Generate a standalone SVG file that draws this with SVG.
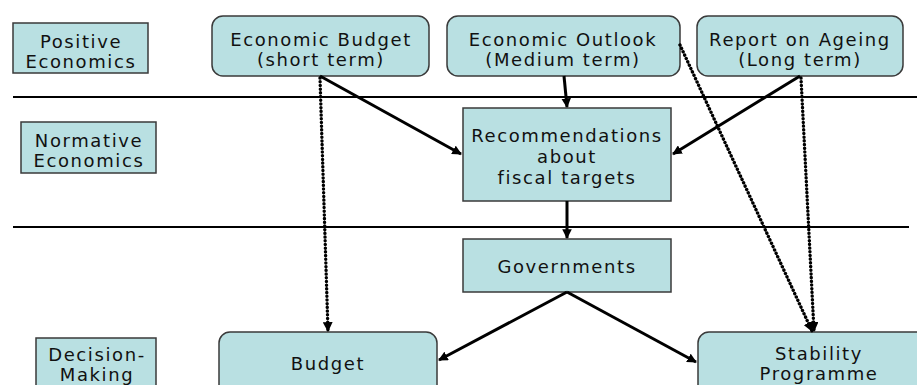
<svg xmlns="http://www.w3.org/2000/svg" width="917" height="385" viewBox="0 0 917 385">
<defs>
<style>
.box{fill:#b9e0e2;stroke:#3a3a3a;stroke-width:1.5}
.t{font-family:"DejaVu Sans",Verdana,sans-serif;font-size:18px;letter-spacing:1.6px;fill:#111;text-anchor:middle}
.sep{stroke:#000;stroke-width:2}
.solid{stroke:#000;stroke-width:3;fill:none;marker-end:url(#ah)}
.dot{stroke:#000;stroke-width:3.4;fill:none;stroke-dasharray:0.1 3.6;stroke-linecap:round;marker-end:url(#ahd)}
</style>
<marker id="ah" viewBox="0 0 10 10" refX="9" refY="5" markerWidth="3.2" markerHeight="3.2" orient="auto" markerUnits="strokeWidth">
<path d="M0,0 L10,5 L0,10 z" fill="#000"/>
</marker>
<marker id="ahd" viewBox="0 0 10 10" refX="9" refY="5" markerWidth="2.9" markerHeight="2.9" orient="auto" markerUnits="strokeWidth">
<path d="M0,0 L10,5 L0,10 z" fill="#000"/>
</marker>
</defs>
<rect width="917" height="385" fill="#fff"/>
<g id="separators">
<line class="sep" x1="13" y1="97" x2="917" y2="97"/>
<line class="sep" x1="13" y1="227" x2="909" y2="227"/>
</g>
<g id="positive">
<rect class="box" x="13" y="23" width="135" height="50"/>
<text class="t" x="81" y="48">Positive</text>
<text class="t" x="81" y="68">Economics</text>
</g>
<g id="normative">
<rect class="box" x="21" y="122" width="135" height="51"/>
<text class="t" x="89" y="147">Normative</text>
<text class="t" x="89" y="167">Economics</text>
</g>
<g id="decision">
<rect class="box" x="36" y="338" width="120" height="60"/>
<text class="t" x="97" y="361">Decision-</text>
<text class="t" x="97" y="381">Making</text>
</g>
<g id="econBudget">
<rect class="box" x="212" y="16" width="217" height="60" rx="11"/>
<text class="t" x="321" y="46">Economic Budget</text>
<text class="t" x="321" y="66">(short term)</text>
</g>
<g id="econOutlook">
<rect class="box" x="447" y="16" width="233" height="60" rx="11"/>
<text class="t" x="563" y="46">Economic Outlook</text>
<text class="t" x="563" y="66">(Medium term)</text>
</g>
<g id="ageing">
<rect class="box" x="697" y="16" width="206" height="60" rx="11"/>
<text class="t" x="800" y="46">Report on Ageing</text>
<text class="t" x="800" y="66">(Long term)</text>
</g>
<g id="recommendations">
<rect class="box" x="463" y="108" width="208" height="93"/>
<text class="t" x="567" y="142">Recommendations</text>
<text class="t" x="567" y="163">about</text>
<text class="t" x="567" y="184">fiscal targets</text>
</g>
<g id="governments">
<rect class="box" x="463" y="239" width="208" height="53"/>
<text class="t" x="567" y="273">Governments</text>
</g>
<g id="budget">
<rect class="box" x="219" y="332" width="218" height="70" rx="11"/>
<text class="t" x="328" y="370">Budget</text>
</g>
<g id="stability">
<rect class="box" x="698" y="332" width="240" height="70" rx="11"/>
<text class="t" x="819" y="360">Stability</text>
<text class="t" x="819" y="380">Programme</text>
</g>
<g id="connectors">
<line class="solid" x1="320" y1="76" x2="461" y2="154"/>
<line class="dot" x1="320" y1="78" x2="328" y2="331"/>
<line class="solid" x1="564" y1="76" x2="567" y2="107"/>
<line class="solid" x1="800" y1="76" x2="673" y2="154"/>
<line class="dot" x1="680" y1="45" x2="812" y2="331"/>
<line class="dot" x1="801" y1="78" x2="814" y2="331"/>
<line class="solid" x1="567" y1="201" x2="567" y2="238"/>
<line class="solid" x1="567" y1="292" x2="439" y2="360"/>
<line class="solid" x1="567" y1="292" x2="696" y2="362"/>
</g>
</svg>
